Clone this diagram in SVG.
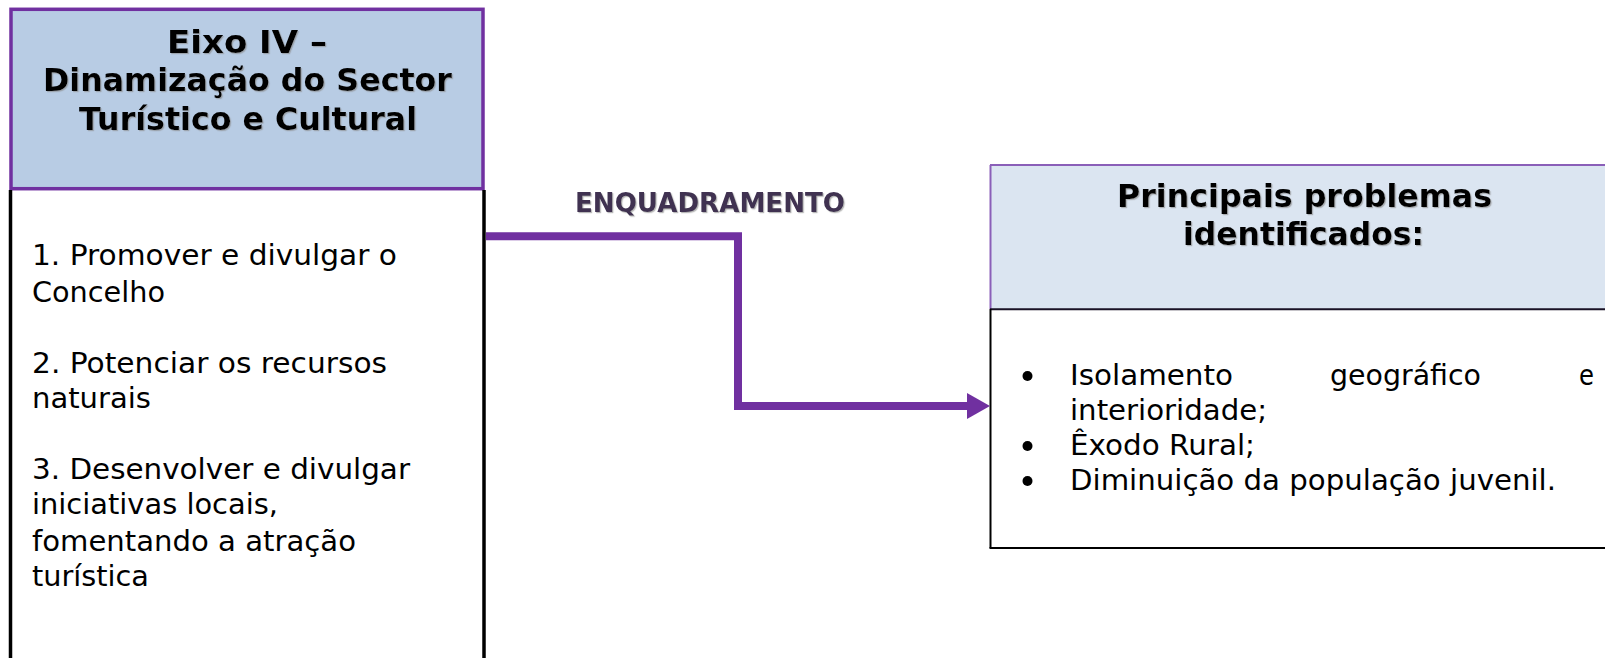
<svg xmlns="http://www.w3.org/2000/svg" width="1605" height="658" viewBox="0 0 1605 658">
  <defs>
    <style>
      .title { font-family: "DejaVu Sans", Verdana, sans-serif; font-weight: bold; font-size: 31.5px; fill: #000; }
      .body { font-family: "DejaVu Sans", Verdana, sans-serif; font-size: 28.5px; fill: #000; }
      .label { font-family: "DejaVu Sans", Verdana, sans-serif; font-weight: bold; font-size: 26.5px; fill: #3F3151; }
      .conn { fill: none; stroke: #7030A0; stroke-width: 8; stroke-linejoin: miter; }
    </style>
    <filter id="shadow" x="-5%" y="-20%" width="110%" height="140%">
      <feDropShadow dx="1.2" dy="1.2" stdDeviation="0.6" flood-color="#888888" flood-opacity="0.6"/>
    </filter>
    <marker id="arrow" markerUnits="userSpaceOnUse" markerWidth="24" markerHeight="26" refX="0" refY="13" orient="auto">
      <path d="M0,0 L23,13 L0,26 Z" fill="#7030A0"/>
    </marker>
  </defs>

  <rect width="1605" height="658" fill="#FFFFFF"/>

  <g id="eixo-iv">
    <rect x="11" y="9.3" width="472" height="179.4" fill="#B8CCE4" stroke="#7030A0" stroke-width="3.5"/>
    <line x1="10.5" y1="190" x2="10.5" y2="658" stroke="#000" stroke-width="3.5"/>
    <line x1="484" y1="190" x2="484" y2="658" stroke="#000" stroke-width="3.5"/>
    <g filter="url(#shadow)">
      <text class="title" x="167" y="53" textLength="160" lengthAdjust="spacingAndGlyphs">Eixo IV –</text>
      <text class="title" x="43" y="91" textLength="409" lengthAdjust="spacingAndGlyphs">Dinamização do Sector</text>
      <text class="title" x="79" y="130" textLength="338" lengthAdjust="spacingAndGlyphs">Turístico e Cultural</text>
    </g>
    <text class="body" x="32" y="265" textLength="365" lengthAdjust="spacingAndGlyphs">1. Promover e divulgar o</text>
    <text class="body" x="32" y="302" textLength="133" lengthAdjust="spacingAndGlyphs">Concelho</text>
    <text class="body" x="32" y="373" textLength="355" lengthAdjust="spacingAndGlyphs">2. Potenciar os recursos</text>
    <text class="body" x="32" y="408" textLength="119" lengthAdjust="spacingAndGlyphs">naturais</text>
    <text class="body" x="32" y="479" textLength="378" lengthAdjust="spacingAndGlyphs">3. Desenvolver e divulgar</text>
    <text class="body" x="32" y="514" textLength="246" lengthAdjust="spacingAndGlyphs">iniciativas locais,</text>
    <text class="body" x="32" y="551" textLength="324" lengthAdjust="spacingAndGlyphs">fomentando a atração</text>
    <text class="body" x="32" y="586" textLength="117" lengthAdjust="spacingAndGlyphs">turística</text>
  </g>

  <g id="problemas">
    <rect x="990" y="165" width="620" height="144" fill="#DBE5F1"/>
    <line x1="990" y1="165" x2="1605" y2="165" stroke="#8A5FB8" stroke-width="2"/>
    <line x1="990.5" y1="165" x2="990.5" y2="309" stroke="#8A5FB8" stroke-width="2"/>
    <line x1="990" y1="309.3" x2="1605" y2="309.3" stroke="#1A1226" stroke-width="2"/>
    <line x1="990.5" y1="309" x2="990.5" y2="548" stroke="#000" stroke-width="2"/>
    <line x1="989.5" y1="548" x2="1605" y2="548" stroke="#000" stroke-width="2"/>
    <g filter="url(#shadow)">
      <text class="title" x="1117" y="207" font-size="29.5" textLength="375" lengthAdjust="spacingAndGlyphs">Principais problemas</text>
      <text class="title" x="1183" y="245" font-size="29.5" textLength="241" lengthAdjust="spacingAndGlyphs">identificados:</text>
    </g>
    <circle cx="1027.5" cy="376" r="5" fill="#000"/>
    <circle cx="1027.5" cy="446" r="5" fill="#000"/>
    <circle cx="1027.5" cy="481" r="5" fill="#000"/>
    <text class="body" x="1070" y="385" textLength="163" lengthAdjust="spacingAndGlyphs">Isolamento</text>
    <text class="body" x="1330" y="385" textLength="151" lengthAdjust="spacingAndGlyphs">geográfico</text>
    <text class="body" x="1579" y="385" textLength="15" lengthAdjust="spacingAndGlyphs">e</text>
    <text class="body" x="1070" y="420" textLength="197" lengthAdjust="spacingAndGlyphs">interioridade;</text>
    <text class="body" x="1070" y="455" textLength="185" lengthAdjust="spacingAndGlyphs">Êxodo Rural;</text>
    <text class="body" x="1070" y="490" textLength="486" lengthAdjust="spacingAndGlyphs">Diminuição da população juvenil.</text>
  </g>

  <g id="connectors">
    <path class="conn" d="M486,236.3 H738 V406 H967" marker-end="url(#arrow)"/>
    <text class="label" x="575" y="212" textLength="270" lengthAdjust="spacingAndGlyphs" filter="url(#shadow)">ENQUADRAMENTO</text>
  </g>
</svg>
